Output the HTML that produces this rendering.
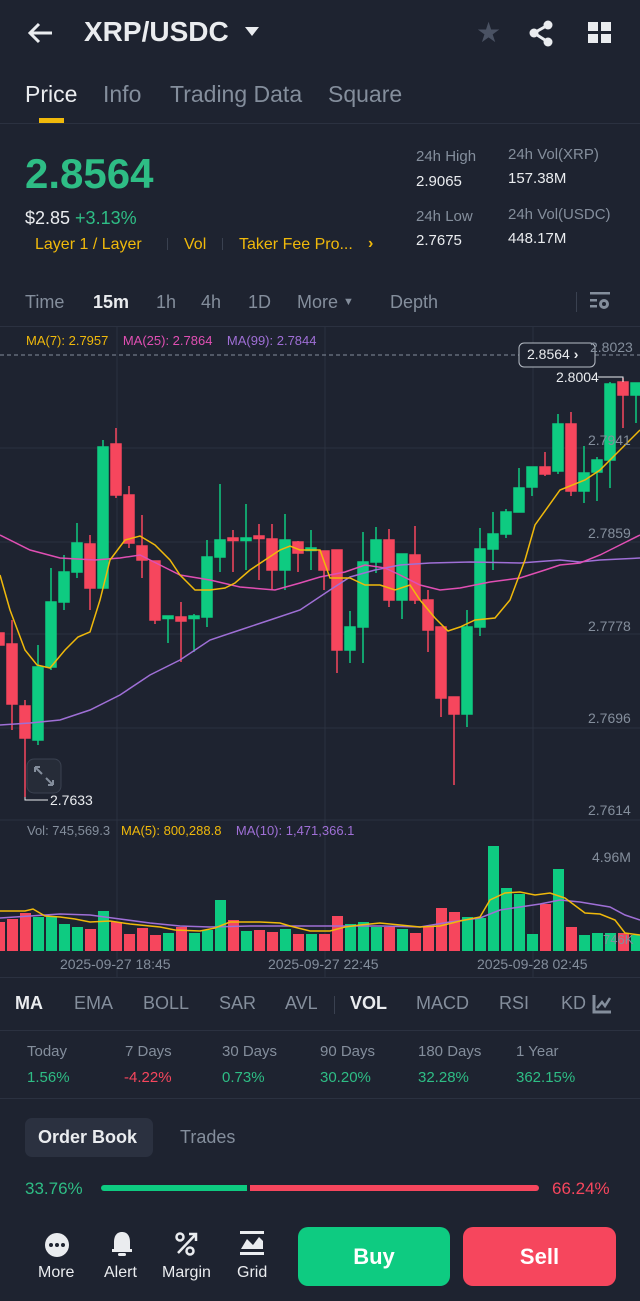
<!DOCTYPE html>
<html><head><meta charset="utf-8"><style>
*{margin:0;padding:0;box-sizing:border-box}
body{width:640px;height:1301px;background:#1e2330;font-family:"Liberation Sans","DejaVu Sans",sans-serif;position:relative;overflow:hidden;color:#eaecef}
.a{position:absolute;white-space:nowrap}
.g{color:#848e9c}
.gr{color:#2ebd85}
.rd{color:#f6465d}
.y{color:#f0b90b}
.ln{position:absolute;left:0;width:640px;height:1px;background:#2b3140}
</style></head><body>
<!-- header -->
<svg class="a" style="left:26px;top:20px" width="30" height="26"><path d="M26 13H5M13 4L4 13L13 22" stroke="#eaecef" stroke-width="3" fill="none"/></svg>
<div class="a" style="left:84px;top:16px;font-size:28px;font-weight:bold">XRP/USDC</div>
<svg class="a" style="left:244px;top:26px" width="16" height="12"><path d="M1 1H15L8 10Z" fill="#eaecef"/></svg>
<div class="a" style="left:476px;top:16px;font-size:28px;color:#4a5263">★</div>
<svg class="a" style="left:528px;top:20px" width="28" height="28"><circle cx="20" cy="5" r="4.5" fill="#eaecef"/><circle cx="6" cy="13" r="4.5" fill="#eaecef"/><circle cx="20" cy="22" r="4.5" fill="#eaecef"/><path d="M20 5L6 13L20 22" stroke="#eaecef" stroke-width="3" fill="none"/></svg>
<svg class="a" style="left:588px;top:22px" width="24" height="22"><rect x="0" y="0" width="10" height="9" fill="#eaecef"/><rect x="13" y="0" width="10" height="9" fill="#eaecef"/><rect x="0" y="12" width="10" height="9" fill="#eaecef"/><rect x="13" y="12" width="10" height="9" fill="#eaecef"/></svg>
<div class="a" style="left:25px;top:81px;font-size:23px">Price</div>
<div class="a g" style="left:103px;top:81px;font-size:23px">Info</div>
<div class="a g" style="left:170px;top:81px;font-size:23px">Trading Data</div>
<div class="a g" style="left:328px;top:81px;font-size:23px">Square</div>
<div class="a" style="left:39px;top:118px;width:25px;height:5px;background:#f0b90b"></div>
<div class="ln" style="top:123px"></div>
<!-- price -->
<div class="a gr" style="left:25px;top:150px;font-size:42px;font-weight:bold">2.8564</div>
<div class="a" style="left:25px;top:208px;font-size:18px">$2.85 <span class="gr">+3.13%</span></div>
<div class="a y" style="left:35px;top:236px;font-size:16px">Layer 1 / Layer</div>
<div class="a" style="left:167px;top:238px;width:1px;height:12px;background:#3a4150"></div>
<div class="a y" style="left:184px;top:236px;font-size:16px">Vol</div>
<div class="a" style="left:222px;top:238px;width:1px;height:12px;background:#3a4150"></div>
<div class="a y" style="left:239px;top:236px;font-size:16px">Taker Fee Pro...</div>
<div class="a y" style="left:368px;top:235px;font-size:16px;font-weight:bold">›</div>
<div class="a g" style="left:416px;top:148px;font-size:15px">24h High</div>
<div class="a" style="left:416px;top:173px;font-size:15px">2.9065</div>
<div class="a g" style="left:416px;top:208px;font-size:15px">24h Low</div>
<div class="a" style="left:416px;top:232px;font-size:15px">2.7675</div>
<div class="a g" style="left:508px;top:146px;font-size:15px">24h Vol(XRP)</div>
<div class="a" style="left:508px;top:170px;font-size:15px">157.38M</div>
<div class="a g" style="left:508px;top:206px;font-size:15px">24h Vol(USDC)</div>
<div class="a" style="left:508px;top:230px;font-size:15px">448.17M</div>
<!-- time row -->
<div class="a g" style="left:25px;top:292px;font-size:18px">Time</div>
<div class="a" style="left:93px;top:292px;font-size:18px;font-weight:bold">15m</div>
<div class="a g" style="left:156px;top:292px;font-size:18px">1h</div>
<div class="a g" style="left:201px;top:292px;font-size:18px">4h</div>
<div class="a g" style="left:248px;top:292px;font-size:18px">1D</div>
<div class="a g" style="left:297px;top:292px;font-size:18px">More <span style="font-size:11px;vertical-align:3px">▼</span></div>
<div class="a g" style="left:390px;top:292px;font-size:18px">Depth</div>
<div class="a" style="left:576px;top:292px;width:1px;height:20px;background:#3a4150"></div>
<svg class="a" style="left:590px;top:292px" width="22" height="20"><rect x="0" y="0" width="20" height="2.5" fill="#848e9c"/><rect x="0" y="7" width="7" height="2.5" fill="#848e9c"/><rect x="0" y="13" width="7" height="2.5" fill="#848e9c"/><circle cx="14" cy="12" r="5" fill="#848e9c"/><circle cx="14" cy="12" r="2" fill="#1e2330"/></svg>
<div class="ln" style="top:326px"></div>
<!-- chart -->
<svg class="a" style="left:0;top:0" width="640" height="980">
<g stroke="#2b3140" stroke-width="1">
<line x1="0" y1="448" x2="640" y2="448"/><line x1="0" y1="542" x2="640" y2="542"/><line x1="0" y1="634" x2="640" y2="634"/><line x1="0" y1="728" x2="640" y2="728"/><line x1="0" y1="820" x2="640" y2="820"/>
<line x1="117" y1="327" x2="117" y2="978"/><line x1="325" y1="327" x2="325" y2="978"/><line x1="533" y1="327" x2="533" y2="978"/>
</g>
<line x1="0" y1="355" x2="640" y2="355" stroke="#848e9c" stroke-dasharray="4,3"/>
<g stroke-width="1.5">
<g stroke="#f6465d" fill="#f6465d">
<line x1="-1" y1="625" x2="-1" y2="648"/><rect x="-6" y="633" width="10" height="12"/>
<line x1="12" y1="620" x2="12" y2="730"/><rect x="7" y="644" width="10" height="60"/>
<line x1="25" y1="700" x2="25" y2="797"/><rect x="20" y="706" width="10" height="32"/>
<line x1="90" y1="535" x2="90" y2="610"/><rect x="85" y="544" width="10" height="44"/>
<line x1="116" y1="428" x2="116" y2="498"/><rect x="111" y="444" width="10" height="51"/>
<line x1="129" y1="486" x2="129" y2="548"/><rect x="124" y="495" width="10" height="48"/>
<line x1="142" y1="515" x2="142" y2="578"/><rect x="137" y="546" width="10" height="14"/>
<line x1="155" y1="561" x2="155" y2="624"/><rect x="150" y="561" width="10" height="59"/>
<line x1="181" y1="602" x2="181" y2="662"/><rect x="176" y="617" width="10" height="4"/>
<line x1="233" y1="530" x2="233" y2="572"/><rect x="228" y="538" width="10" height="2.5"/>
<line x1="259" y1="524" x2="259" y2="580"/><rect x="254" y="536" width="10" height="2.5"/>
<line x1="272" y1="524" x2="272" y2="590"/><rect x="267" y="539" width="10" height="31"/>
<line x1="298" y1="541" x2="298" y2="572"/><rect x="293" y="542" width="10" height="11"/>
<line x1="324" y1="551" x2="324" y2="590"/><rect x="319" y="551" width="10" height="19"/>
<line x1="337" y1="550" x2="337" y2="673"/><rect x="332" y="550" width="10" height="100"/>
<line x1="389" y1="529" x2="389" y2="607"/><rect x="384" y="540" width="10" height="60"/>
<line x1="415" y1="526" x2="415" y2="604"/><rect x="410" y="555" width="10" height="45"/>
<line x1="428" y1="590" x2="428" y2="652"/><rect x="423" y="600" width="10" height="30"/>
<line x1="441" y1="627" x2="441" y2="717"/><rect x="436" y="627" width="10" height="71"/>
<line x1="454" y1="697" x2="454" y2="785"/><rect x="449" y="697" width="10" height="17"/>
<line x1="545" y1="452" x2="545" y2="476"/><rect x="540" y="467" width="10" height="7"/>
<line x1="571" y1="412" x2="571" y2="496"/><rect x="566" y="424" width="10" height="67"/>
<line x1="623" y1="378" x2="623" y2="428"/><rect x="618" y="382" width="10" height="13"/>
</g>
<g stroke="#0ecb81" fill="#0ecb81">
<line x1="38" y1="645" x2="38" y2="745"/><rect x="33" y="667" width="10" height="73"/>
<line x1="51" y1="568" x2="51" y2="670"/><rect x="46" y="602" width="10" height="65"/>
<line x1="64" y1="555" x2="64" y2="610"/><rect x="59" y="572" width="10" height="30"/>
<line x1="77" y1="523" x2="77" y2="578"/><rect x="72" y="543" width="10" height="29"/>
<line x1="103" y1="440" x2="103" y2="588"/><rect x="98" y="447" width="10" height="141"/>
<line x1="168" y1="616" x2="168" y2="643"/><rect x="163" y="616" width="10" height="2.5"/>
<line x1="194" y1="614" x2="194" y2="652"/><rect x="189" y="616" width="10" height="2.5"/>
<line x1="207" y1="540" x2="207" y2="627"/><rect x="202" y="557" width="10" height="60"/>
<line x1="220" y1="484" x2="220" y2="572"/><rect x="215" y="540" width="10" height="17"/>
<line x1="246" y1="504" x2="246" y2="570"/><rect x="241" y="538" width="10" height="2.5"/>
<line x1="285" y1="514" x2="285" y2="590"/><rect x="280" y="540" width="10" height="30"/>
<line x1="311" y1="530" x2="311" y2="570"/><rect x="306" y="548" width="10" height="2.5"/>
<line x1="350" y1="611" x2="350" y2="663"/><rect x="345" y="627" width="10" height="23"/>
<line x1="363" y1="532" x2="363" y2="663"/><rect x="358" y="562" width="10" height="65"/>
<line x1="376" y1="527" x2="376" y2="573"/><rect x="371" y="540" width="10" height="22"/>
<line x1="402" y1="554" x2="402" y2="619"/><rect x="397" y="554" width="10" height="46"/>
<line x1="467" y1="610" x2="467" y2="727"/><rect x="462" y="627" width="10" height="87"/>
<line x1="480" y1="528" x2="480" y2="636"/><rect x="475" y="549" width="10" height="78"/>
<line x1="493" y1="512" x2="493" y2="570"/><rect x="488" y="534" width="10" height="15"/>
<line x1="506" y1="509" x2="506" y2="538"/><rect x="501" y="512" width="10" height="22"/>
<line x1="519" y1="468" x2="519" y2="512"/><rect x="514" y="488" width="10" height="24"/>
<line x1="532" y1="467" x2="532" y2="496"/><rect x="527" y="467" width="10" height="20"/>
<line x1="558" y1="414" x2="558" y2="474"/><rect x="553" y="424" width="10" height="47"/>
<line x1="584" y1="446" x2="584" y2="503"/><rect x="579" y="473" width="10" height="18"/>
<line x1="597" y1="457" x2="597" y2="501"/><rect x="592" y="460" width="10" height="12"/>
<line x1="610" y1="382" x2="610" y2="488"/><rect x="605" y="384" width="10" height="76"/>
<line x1="636" y1="383" x2="636" y2="423"/><rect x="631" y="383" width="10" height="12"/>
</g>
</g>
<g fill="none" stroke-width="1.5">
<polyline stroke="#9f6fd6" points="0,725 30,723 60,720 90,710 120,695 150,675 180,660 210,640 240,630 270,620 300,610 330,590 350,577 375,570 400,565 430,563 470,562 520,563 560,560 580,562 600,560 640,558"/>
<polyline stroke="#e04fb3" points="0,535 30,550 60,558 95,560 120,558 140,555 160,565 180,575 210,580 240,587 275,590 300,583 320,577 345,572 365,565 385,568 400,575 420,585 440,590 460,588 490,582 520,578 545,570 560,565 580,563 600,555 620,545 640,535"/>
<polyline stroke="#f0b90b" points="0,575 10,610 25,650 37,665 50,668 65,650 78,637 90,632 100,600 110,560 125,540 140,536 155,545 170,560 180,575 195,590 210,590 225,588 235,583 250,570 265,560 280,550 290,546 300,550 320,550 330,578 350,578 365,585 380,585 395,590 410,585 420,600 435,618 448,631 460,627 475,620 495,618 510,600 525,560 535,525 560,490 585,480 600,470 620,450 640,430"/>
</g>
<!-- volume -->
<g>
<g fill="#f6465d">
<rect x="-6" y="922" width="11" height="29"/><rect x="7" y="919" width="11" height="32"/><rect x="20" y="913" width="11" height="38"/>
<rect x="85" y="929" width="11" height="22"/><rect x="111" y="922" width="11" height="29"/><rect x="124" y="934" width="11" height="17"/><rect x="137" y="928" width="11" height="23"/><rect x="150" y="935" width="11" height="16"/><rect x="176" y="927" width="11" height="24"/>
<rect x="228" y="920" width="11" height="31"/><rect x="254" y="930" width="11" height="21"/><rect x="267" y="932" width="11" height="19"/><rect x="293" y="934" width="11" height="17"/><rect x="319" y="934" width="11" height="17"/><rect x="332" y="916" width="11" height="35"/>
<rect x="384" y="927" width="11" height="24"/><rect x="410" y="933" width="11" height="18"/><rect x="423" y="926" width="11" height="25"/><rect x="436" y="908" width="11" height="43"/><rect x="449" y="912" width="11" height="39"/>
<rect x="540" y="904" width="11" height="47"/><rect x="566" y="927" width="11" height="24"/><rect x="618" y="933" width="11" height="18"/>
</g>
<g fill="#0ecb81">
<rect x="33" y="917" width="11" height="34"/><rect x="46" y="916" width="11" height="35"/><rect x="59" y="924" width="11" height="27"/><rect x="72" y="927" width="11" height="24"/><rect x="98" y="911" width="11" height="40"/>
<rect x="163" y="933" width="11" height="18"/><rect x="189" y="933" width="11" height="18"/><rect x="202" y="930" width="11" height="21"/><rect x="215" y="900" width="11" height="51"/><rect x="241" y="931" width="11" height="20"/>
<rect x="280" y="929" width="11" height="22"/><rect x="306" y="934" width="11" height="17"/><rect x="345" y="924" width="11" height="27"/><rect x="358" y="922" width="11" height="29"/><rect x="371" y="927" width="11" height="24"/><rect x="397" y="929" width="11" height="22"/>
<rect x="462" y="917" width="11" height="34"/><rect x="475" y="918" width="11" height="33"/><rect x="488" y="846" width="11" height="105"/><rect x="501" y="888" width="11" height="63"/><rect x="514" y="894" width="11" height="57"/><rect x="527" y="934" width="11" height="17"/>
<rect x="553" y="869" width="11" height="82"/><rect x="579" y="935" width="11" height="16"/><rect x="592" y="933" width="11" height="18"/><rect x="605" y="933" width="11" height="18"/><rect x="631" y="935" width="11" height="16"/>
</g>
</g>
<g fill="none" stroke-width="1.5">
<polyline stroke="#9f6fd6" points="0,918 30,916 60,914 90,915 120,919 150,923 180,926 210,927 250,926 300,926 340,926 380,926 420,927 450,922 480,918 500,910 520,907 540,904 560,900 580,902 610,907 625,915 640,920"/>
<polyline stroke="#f0b90b" points="0,911 25,911 33,909 45,916 60,917 75,919 90,922 110,921 130,924 160,927 175,930 200,931 215,928 230,922 260,922 280,923 290,926 310,931 330,931 345,927 360,925 380,923 400,925 420,927 440,926 460,921 480,917 490,900 505,893 520,892 535,895 550,893 565,898 585,913 600,914 615,920 625,933 640,935"/>
</g>
<!-- annotations -->
<polyline points="25,797 25,800 48,800" stroke="#eaecef" fill="none" stroke-width="1"/>
<polyline points="598,377 623,377 623,382" stroke="#eaecef" fill="none" stroke-width="1"/>
<rect x="519" y="343" width="76" height="24" rx="5" fill="#1e2330" stroke="#b7bdc6" stroke-width="1"/>
<rect x="27" y="759" width="34" height="34" rx="7" fill="#262c38" stroke="#3a4150"/>
<path d="M35 767l7 7M35 767h5M35 767v5M53 785l-7-7M53 785h-5M53 785v-5" stroke="#848e9c" stroke-width="2" fill="none"/>
</svg>
<div class="a" style="left:527px;top:346px;font-size:14px">2.8564 <b>›</b></div>
<div class="a" style="left:556px;top:369px;font-size:14px">2.8004</div>
<div class="a" style="left:50px;top:792px;font-size:14px">2.7633</div>
<div class="a" style="left:26px;top:333px;font-size:13px"><span class="y">MA(7): 2.7957</span>&nbsp;&nbsp;&nbsp; <span style="color:#e04fb3">MA(25): 2.7864</span>&nbsp;&nbsp;&nbsp; <span style="color:#9f6fd6">MA(99): 2.7844</span></div>
<div class="a g" style="left:590px;top:339px;font-size:14px">2.8023</div>
<div class="a g" style="left:588px;top:432px;font-size:14px">2.7941</div>
<div class="a g" style="left:588px;top:525px;font-size:14px">2.7859</div>
<div class="a g" style="left:588px;top:618px;font-size:14px">2.7778</div>
<div class="a g" style="left:588px;top:710px;font-size:14px">2.7696</div>
<div class="a g" style="left:588px;top:802px;font-size:14px">2.7614</div>
<div class="a" style="left:27px;top:823px;font-size:13px"><span class="g">Vol: 745,569.3</span>&nbsp;&nbsp; <span class="y">MA(5): 800,288.8</span>&nbsp;&nbsp;&nbsp; <span style="color:#9f6fd6">MA(10): 1,471,366.1</span></div>
<div class="a g" style="left:592px;top:849px;font-size:14px">4.96M</div>
<div class="a g" style="left:603px;top:932px;font-size:13px">746K</div>
<div class="a g" style="left:60px;top:956px;font-size:14px">2025-09-27 18:45</div>
<div class="a g" style="left:268px;top:956px;font-size:14px">2025-09-27 22:45</div>
<div class="a g" style="left:477px;top:956px;font-size:14px">2025-09-28 02:45</div>
<div class="ln" style="top:977px"></div>
<!-- indicators -->
<div class="a" style="left:15px;top:993px;font-size:18px;font-weight:bold">MA</div>
<div class="a g" style="left:74px;top:993px;font-size:18px">EMA</div>
<div class="a g" style="left:143px;top:993px;font-size:18px">BOLL</div>
<div class="a g" style="left:219px;top:993px;font-size:18px">SAR</div>
<div class="a g" style="left:285px;top:993px;font-size:18px">AVL</div>
<div class="a" style="left:334px;top:996px;width:1px;height:18px;background:#3a4150"></div>
<div class="a" style="left:350px;top:993px;font-size:18px;font-weight:bold">VOL</div>
<div class="a g" style="left:416px;top:993px;font-size:18px">MACD</div>
<div class="a g" style="left:499px;top:993px;font-size:18px">RSI</div>
<div class="a g" style="left:561px;top:993px;font-size:18px">KD</div>
<svg class="a" style="left:592px;top:994px" width="20" height="20"><path d="M2 1V18H19" stroke="#848e9c" stroke-width="3" fill="none"/><path d="M5 14L10 8L13 12L18 4" stroke="#848e9c" stroke-width="2.5" fill="none"/></svg>
<div class="ln" style="top:1030px"></div>
<div class="a g" style="left:27px;top:1043px;font-size:15px">Today</div><div class="a gr" style="left:27px;top:1069px;font-size:15px">1.56%</div>
<div class="a g" style="left:125px;top:1043px;font-size:15px">7 Days</div><div class="a rd" style="left:124px;top:1069px;font-size:15px">-4.22%</div>
<div class="a g" style="left:222px;top:1043px;font-size:15px">30 Days</div><div class="a gr" style="left:222px;top:1069px;font-size:15px">0.73%</div>
<div class="a g" style="left:320px;top:1043px;font-size:15px">90 Days</div><div class="a gr" style="left:320px;top:1069px;font-size:15px">30.20%</div>
<div class="a g" style="left:418px;top:1043px;font-size:15px">180 Days</div><div class="a gr" style="left:418px;top:1069px;font-size:15px">32.28%</div>
<div class="a g" style="left:516px;top:1043px;font-size:15px">1 Year</div><div class="a gr" style="left:516px;top:1069px;font-size:15px">362.15%</div>
<div class="ln" style="top:1098px"></div>
<div class="a" style="left:25px;top:1118px;width:128px;height:39px;background:#2b3140;border-radius:7px"></div>
<div class="a" style="left:38px;top:1127px;font-size:18px;font-weight:bold">Order Book</div>
<div class="a g" style="left:180px;top:1127px;font-size:18px">Trades</div>
<div class="a gr" style="left:25px;top:1179px;font-size:17px">33.76%</div>
<div class="a" style="left:101px;top:1185px;width:146px;height:6px;background:#0ecb81;border-radius:3px 0 0 3px"></div>
<div class="a" style="left:250px;top:1185px;width:289px;height:6px;background:#f6465d;border-radius:0 3px 3px 0"></div>
<div class="a rd" style="left:552px;top:1179px;font-size:17px">66.24%</div>
<!-- bottom -->
<svg class="a" style="left:44px;top:1232px" width="26" height="26"><circle cx="13" cy="13" r="12" fill="#eaecef"/><circle cx="7" cy="13" r="2" fill="#1e2330"/><circle cx="13" cy="13" r="2" fill="#1e2330"/><circle cx="19" cy="13" r="2" fill="#1e2330"/></svg>
<svg class="a" style="left:110px;top:1230px" width="24" height="28"><path d="M12 2C6 2 4 7 4 12V19H20V12C20 7 18 2 12 2Z" fill="#eaecef"/><rect x="2" y="19" width="20" height="3" fill="#eaecef"/><rect x="8" y="23" width="8" height="3" rx="1.5" fill="#eaecef"/></svg>
<svg class="a" style="left:175px;top:1231px" width="24" height="26"><circle cx="5" cy="6" r="3.5" stroke="#eaecef" stroke-width="2.5" fill="none"/><circle cx="15" cy="20" r="3.5" stroke="#eaecef" stroke-width="2.5" fill="none"/><path d="M3 22L21 3M14 3H21V10" stroke="#eaecef" stroke-width="2.5" fill="none"/></svg>
<svg class="a" style="left:240px;top:1231px" width="24" height="26"><rect x="0" y="0" width="24" height="3" fill="#eaecef"/><path d="M1 18L7 8L13 14L19 6L23 10V18Z" fill="#eaecef"/><rect x="0" y="21" width="24" height="3" fill="#eaecef"/></svg>
<div class="a" style="left:38px;top:1264px;font-size:16px">More</div>
<div class="a" style="left:104px;top:1264px;font-size:16px">Alert</div>
<div class="a" style="left:162px;top:1264px;font-size:16px">Margin</div>
<div class="a" style="left:237px;top:1264px;font-size:16px">Grid</div>
<div class="a" style="left:298px;top:1227px;width:152px;height:59px;background:#0ecb81;border-radius:10px;text-align:center;line-height:59px;font-size:22px;font-weight:bold;color:#fff">Buy</div>
<div class="a" style="left:463px;top:1227px;width:153px;height:59px;background:#f6465d;border-radius:10px;text-align:center;line-height:59px;font-size:22px;font-weight:bold;color:#fff">Sell</div>
</body></html>
